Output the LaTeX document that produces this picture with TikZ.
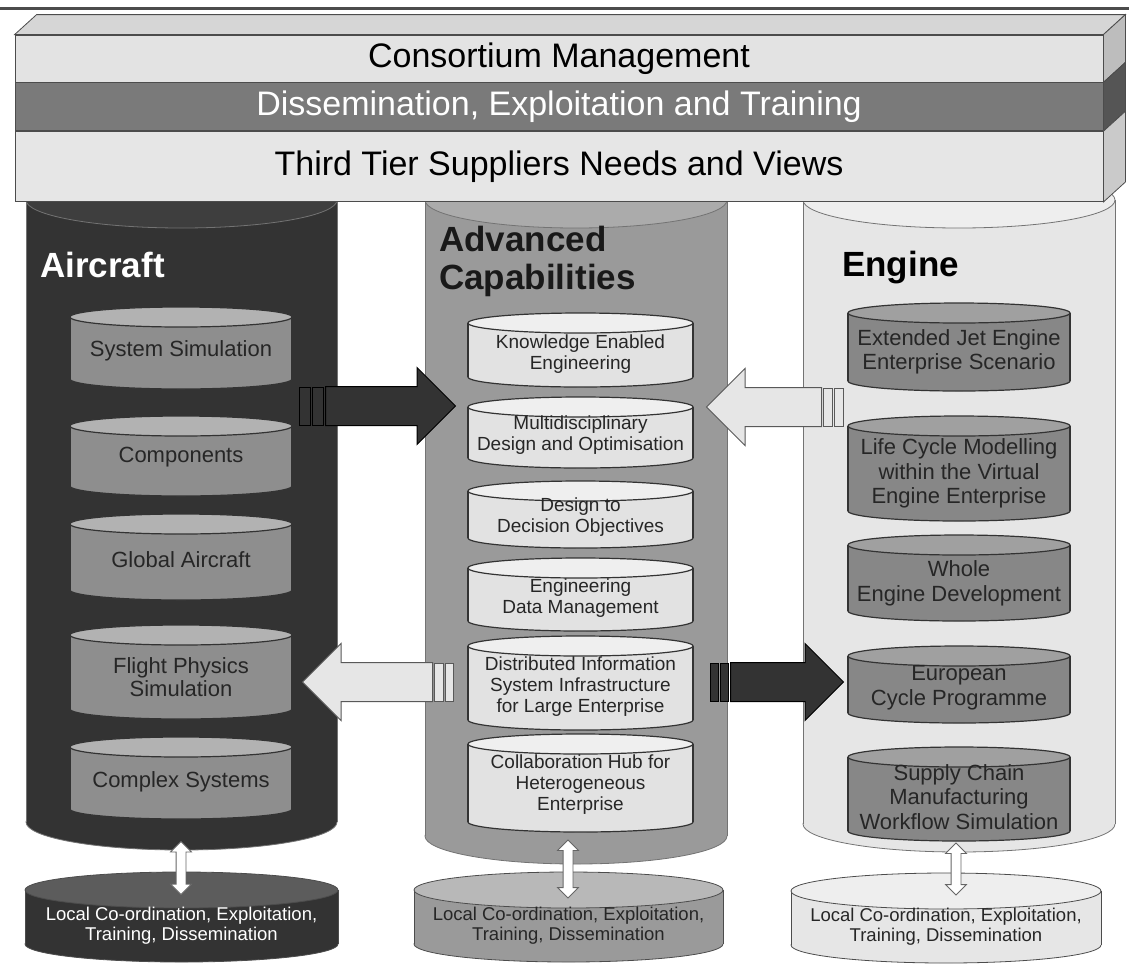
\documentclass[tikz,border=0pt]{standalone}
\usepackage{fontspec}
\setmainfont{Liberation Sans}
\usetikzlibrary{shapes.arrows, positioning, calc}
\definecolor{airbody}{HTML}{333333}
\definecolor{airend}{HTML}{3E3E3E}
\definecolor{advbody}{HTML}{9A9A9A}
\definecolor{advend}{HTML}{ABABAB}
\definecolor{engbody}{HTML}{E6E6E6}
\definecolor{engend}{HTML}{EEEEEE}
\definecolor{greybody}{HTML}{8E8E8E}
\definecolor{greyend}{HTML}{B2B2B2}
\definecolor{palebody}{HTML}{E2E2E2}
\definecolor{paleend}{HTML}{EFEFEF}
\definecolor{barpale}{HTML}{E3E3E3}
\definecolor{bardark}{HTML}{7A7A7A}
\definecolor{toppale}{HTML}{D6D6D6}
\definecolor{sidepale}{HTML}{BDBDBD}
\definecolor{sidedark}{HTML}{555555}

% upright cylinder: [style] {cx}{top centre y}{bottom centre y}{x radius}{y radius}{body}{end}
\newcommand{\barrel}[8][]{%
  \begin{scope}[#1]
    \filldraw[fill=#7] (#2,#4) ellipse [x radius=#5, y radius=#6];
    \fill[#7, draw=none] ({#2-#5},#3) rectangle ({#2+#5},#4);
    \draw ({#2-#5},#3) -- ({#2-#5},#4) ({#2+#5},#3) -- ({#2+#5},#4);
    \filldraw[fill=#8] (#2,#3) ellipse [x radius=#5, y radius=#6];
  \end{scope}}

\tikzset{
  bar/.style     ={rectangle, draw=black!70, line width=0.8pt, minimum width=1088pt,
                   inner sep=0pt, font=\fontsize{34}{38}\selectfont},
  pillar/.style  ={draw=black!55, line width=0.8pt},
  drumline/.style={draw=black!80, line width=1.2pt},
  title/.style   ={inner sep=0pt, align=left, font=\fontsize{35}{38}\selectfont\bfseries},
  airtext/.style ={inner sep=0pt, align=center, text=black!85, font=\fontsize{22}{23}\selectfont},
  advtext/.style ={inner sep=0pt, align=center, text=black!85, font=\fontsize{19}{21}\selectfont},
  engtext/.style ={inner sep=0pt, align=center, text=black!85, font=\fontsize{22}{24.5}\selectfont},
  loctext/.style ={inner sep=0pt, align=center, font=\fontsize{18.5}{20}\selectfont},
  flow/.style    ={single arrow, line width=1pt, inner xsep=0pt, inner ysep=19pt,
                   single arrow head extend=19pt},
  stripe/.style  ={rectangle, line width=0.8pt, minimum width=10pt, minimum height=38pt, inner sep=0pt},
  darkflow/.style={draw=black, fill=airbody},
  paleflow/.style={draw=black!65, fill=engbody},
  twoway/.style  ={double arrow, draw=black!60, fill=white, line width=0.8pt, rotate=90,
                   inner xsep=0pt, inner ysep=4.5pt, double arrow head extend=5.5pt},
}

\begin{document}
\begin{tikzpicture}[x=1pt, y=-1pt]
  \useasboundingbox (0,0) rectangle (1129,967);

  % --- the three pillars -----------------------------------------------------
  \barrel[pillar]{181.5}{200}{822}{155.5}{28}{airbody}{airend}
  \barrel[pillar]{576}{200}{836}{151}{28}{advbody}{advend}
  \barrel[pillar]{959}{200}{824}{156}{28}{engbody}{engend}

  % --- header block ----------------------------------------------------------
  \draw[line width=3pt, black!70] (0,8) -- (1129,8);
  \node[bar, fill=barpale, minimum height=47pt] (cm) at (559,58.5) {Consortium Management};
  \node[bar, fill=bardark, text=white, minimum height=48pt, below=0pt of cm] (det)
       {Dissemination, Exploitation and Training};
  \node[bar, fill=barpale!90!white, minimum height=70pt, below=0pt of det] (tts)
       {Third Tier Suppliers Needs and Views};
  \draw[black!70, line width=0.8pt, fill=toppale]
       (cm.north west) -- ++(22,-20) -- ($(cm.north east)+(22,-20)$) -- (cm.north east) -- cycle;
  \foreach \b/\c in {cm/sidepale, det/sidedark, tts/sidepale!80!white}
    \draw[black!70, line width=0.8pt, fill=\c]
         (\b.north east) -- ++(22,-20) -- ($(\b.south east)+(22,-20)$) -- (\b.south east) -- cycle;

  % --- pillar titles ---------------------------------------------------------
  \node[title, text=white, anchor=base west] (airT) at (40,277) {Aircraft};
  \node[title, text=black!90, anchor=north west] (advT) at (439,226) {Advanced\\Capabilities};
  \node[title, anchor=base west] (engT) at (842,276) {Engine};

  % --- aircraft work packages ------------------------------------------------
  \foreach \ya/\yb in {317/379, 426/486, 524/590, 635/709, 747/809}
    {\barrel[drumline]{181}{\ya}{\yb}{111}{10}{greybody}{greyend}}
  \node[airtext] (sys)  at (181,351)   {System Simulation};
  \node[airtext] (comp) at (181,457)   {Components};
  \node[airtext] (glob) at (181,560)   {Global Aircraft};
  \node[airtext] (fps)  at (181,677.5) {Flight Physics\\Simulation};
  \node[airtext] (cplx) at (181,782)   {Complex Systems};

  % --- advanced capabilities -------------------------------------------------
  \foreach \ya/\yb in {323/377, 407/458, 491/538, 568/621, 646/720, 744/822}
    {\barrel[drumline]{580.5}{\ya}{\yb}{112.5}{10}{palebody}{paleend}}
  \node[advtext] (kee) at (580.5,354) {Knowledge Enabled\\Engineering};
  \node[advtext] (mdo) at (580.5,435) {Multidisciplinary\\Design and Optimisation};
  \node[advtext] (ddo) at (580.5,517) {Design to\\Decision Objectives};
  \node[advtext] (edm) at (580.5,598) {Engineering\\Data Management};
  \node[advtext] (dis) at (580.5,687) {Distributed Information\\System Infrastructure\\for Large Enterprise};
  \node[advtext] (hub) at (580.5,785) {Collaboration Hub for\\Heterogeneous\\Enterprise};

  % --- engine work packages --------------------------------------------------
  \foreach \ya/\yb in {313/381, 426/511, 545/611, 656/713, 757/831}
    {\barrel[drumline]{959}{\ya}{\yb}{111}{10}{greybody!95!black}{greyend!90!black}}
  \node[engtext] (jet) at (959,352)   {Extended Jet Engine\\Enterprise Scenario};
  \node[engtext] (lcm) at (959,473.5) {Life Cycle Modelling\\within the Virtual\\Engine Enterprise};
  \node[engtext] (wed) at (959,583.5) {Whole\\Engine Development};
  \node[engtext] (ecp) at (959,687.5) {European\\Cycle Programme};
  \node[engtext] (scm) at (959,797)   {Supply Chain\\Manufacturing\\Workflow Simulation};

  % --- exchange arrows between pillars ---------------------------------------
  \node[flow, darkflow, minimum height=130pt, anchor=tail] (a1) at (325,406) {};
  \node[stripe, darkflow, minimum width=11pt, left=1pt of a1.tail] (a1b) {};
  \node[stripe, darkflow, minimum width=11pt, left=1pt of a1b] (a1a) {};

  \node[flow, paleflow, shape border rotate=180, minimum height=115pt, anchor=tail] (a2) at (822,407) {};
  \node[stripe, paleflow, minimum width=9pt, right=1pt of a2.tail] (a2b) {};
  \node[stripe, paleflow, minimum width=9pt, right=1pt of a2b] (a2a) {};

  \node[flow, paleflow, shape border rotate=180, minimum height=130pt, anchor=tail] (a3) at (433,682) {};
  \node[stripe, paleflow, minimum width=9pt, right=1pt of a3.tail] (a3b) {};
  \node[stripe, paleflow, minimum width=8pt, right=1pt of a3b] (a3a) {};

  \node[flow, darkflow, minimum height=113pt, anchor=tail] (a4) at (730,682) {};
  \node[stripe, darkflow, minimum width=8pt, left=1pt of a4.tail] (a4b) {};
  \node[stripe, darkflow, minimum width=8pt, left=1pt of a4b] (a4a) {};

  % --- local co-ordination ---------------------------------------------------
  \barrel[pillar, draw=black!70]{181.5}{890}{944}{156.5}{18}{airbody}{airbody!80!white}
  \barrel[pillar, draw=black!70]{568.5}{890}{944}{154.5}{18}{advbody}{advend!85!white}
  \barrel[pillar, draw=black!70]{946}{891}{945}{155}{18}{engbody}{engend}
  \node[loctext, text=white]    (locA) at (181.5,926) {Local Co-ordination, Exploitation,\\Training, Dissemination};
  \node[loctext, text=black!85] (locB) at (568.5,926) {Local Co-ordination, Exploitation,\\Training, Dissemination};
  \node[loctext, text=black!85] (locC) at (946,927)   {Local Co-ordination, Exploitation,\\Training, Dissemination};

  \node[twoway, minimum height=53pt] (twA) at (181,868) {};
  \node[twoway, minimum height=58pt] (twB) at (568,869) {};
  \node[twoway, minimum height=52pt] (twC) at (956,869) {};
\end{tikzpicture}
\end{document}
